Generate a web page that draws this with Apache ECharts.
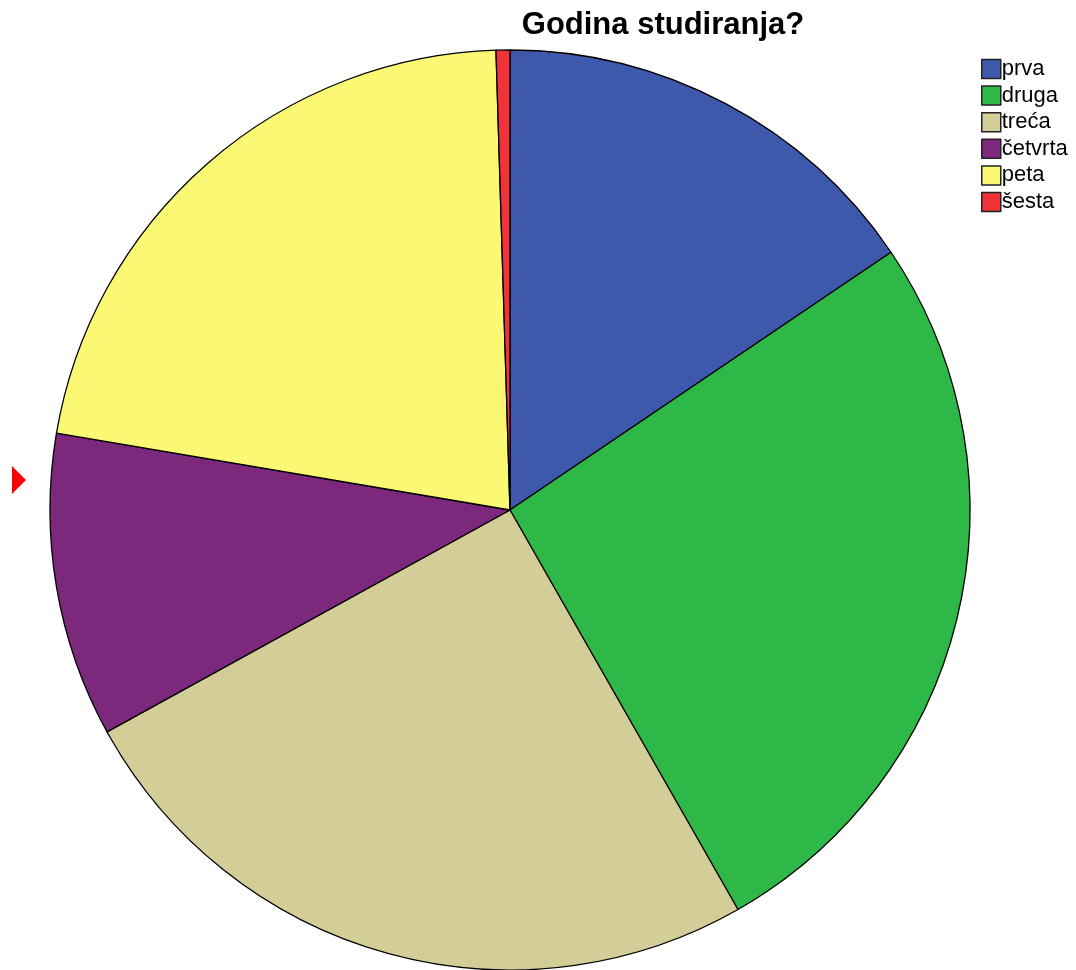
<!DOCTYPE html>
<html>
<head>
<meta charset="utf-8">
<script src="https://cdn.jsdelivr.net/npm/echarts@6/dist/echarts.min.js"></script>
<style>html,body{margin:0;padding:0;background:#fff;}#c{width:1076px;height:970px;}</style>
</head>
<body>
<div id="c"></div>
<script>
const title = 'Godina studiranja?';
const categories = ['prva', 'druga', 'treća', 'četvrta', 'peta', 'šesta'];
const counts = [32, 54, 52, 22, 45, 1];
const colors = ['#3E58AC', '#2EB848', '#D3CE97', '#7C287D', '#FBF873', '#EF3338'];

const chart = echarts.init(document.getElementById('c'), null, {renderer: 'canvas'});
chart.setOption({
  animation: false,
  backgroundColor: '#fff',
  color: colors,
  title: {
    text: title,
    left: 658, top: 5, textAlign: 'center',
    textStyle: {fontFamily: 'Liberation Sans, Arial, sans-serif', fontWeight: 'bold', fontSize: 31, color: '#000'}
  },
  legend: {
    orient: 'vertical',
    left: 976, top: 53,
    itemWidth: 19, itemHeight: 19, itemGap: 4.6,
    icon: 'rect',
    itemStyle: {borderColor: '#222', borderWidth: 1.5},
    textStyle: {fontFamily: 'Liberation Sans, Arial, sans-serif', fontSize: 22, color: '#000', padding: [0,0,0,-4], lineHeight: 22},
    data: categories
  },
  graphic: [{
    type: 'polygon',
    shape: {points: [[12, 466], [26, 480], [12, 494]]},
    style: {fill: '#FF0000'}
  }],
  series: [{
    type: 'pie',
    center: [510, 510],
    radius: 460,
    startAngle: 90,
    clockwise: true,
    avoidLabelOverlap: false,
    label: {show: false},
    labelLine: {show: false},
    emphasis: {disabled: true},
    itemStyle: {borderColor: '#000', borderWidth: 1.3},
    data: categories.map((c, i) => ({name: c, value: counts[i]}))
  }]
});
</script>
</body>
</html>
